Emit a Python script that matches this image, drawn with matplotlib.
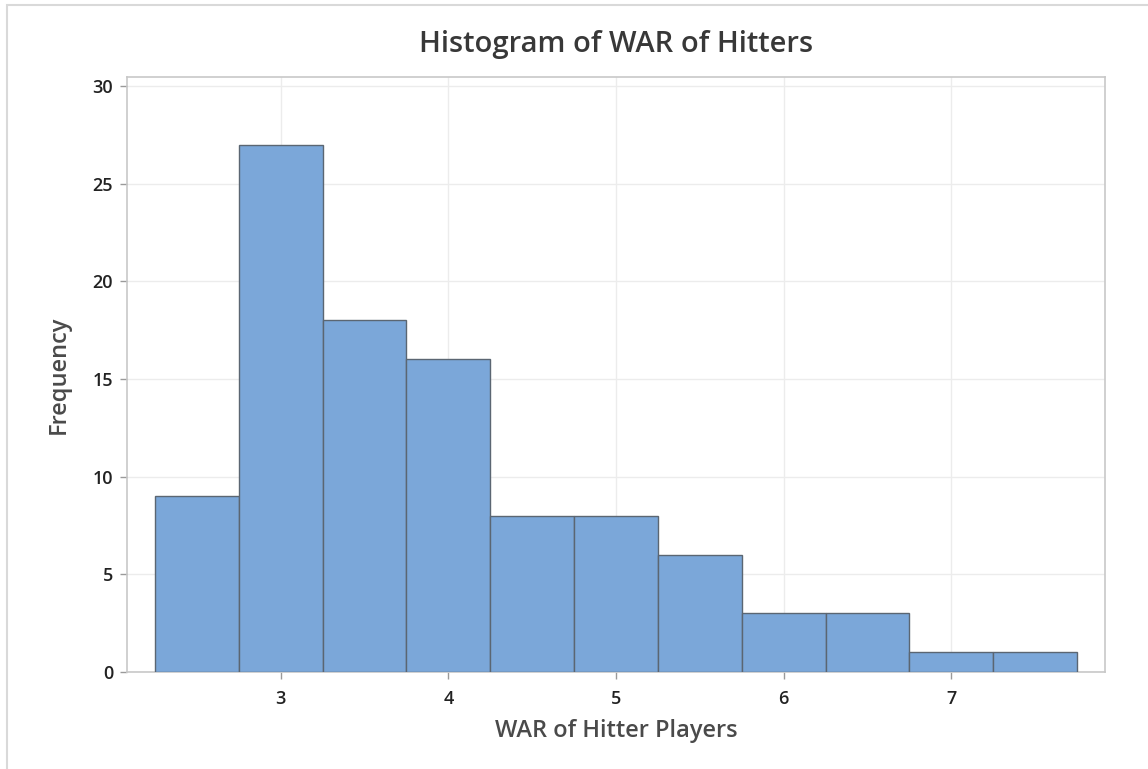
import matplotlib.pyplot as plt
from matplotlib.patches import Rectangle

bin_edges = [2.25, 2.75, 3.25, 3.75, 4.25, 4.75, 5.25, 5.75, 6.25, 6.75, 7.25, 7.75]
counts = [9, 27, 18, 16, 8, 8, 6, 3, 3, 1, 1]
x_ticks = [3, 4, 5, 6, 7]
y_ticks = [0, 5, 10, 15, 20, 25, 30]

plt.rcParams['font.family'] = ['Open Sans', 'DejaVu Sans']

fig = plt.figure(figsize=(11.48, 7.69), dpi=100)
ax = fig.add_axes([127 / 1148, 1 - 672 / 769, (1105 - 127) / 1148, (672 - 77) / 769])

# outer frame of the graph window
fig.patches.append(Rectangle((7 / 1148, -0.01), 1.01, 1 - 5 / 769 + 0.01,
                             transform=fig.transFigure, fill=False,
                             edgecolor='#d9d9d9', linewidth=1.5))

ax.hist(bin_edges[:-1], bins=bin_edges, weights=counts,
        color='#7ba7d9', edgecolor='#5b6672', linewidth=1.0, zorder=3)

ax.set_xlim(2.083, 7.917)
ax.set_ylim(0, 30.46)
ax.set_xticks(x_ticks)
ax.set_yticks(y_ticks)
ax.grid(True, color='#ececec', linewidth=1.0, zorder=0)
ax.set_axisbelow(True)

for s in ax.spines.values():
    s.set_color('#c8c8c8')
    s.set_linewidth(1.2)

ax.tick_params(axis='both', colors='#9a9a9a', length=5, width=1.0,
               labelsize=13, labelcolor='#222222')
ax.tick_params(axis='x', pad=8)
ax.tick_params(axis='y', pad=5)
for lab in ax.get_xticklabels() + ax.get_yticklabels():
    lab.set_fontweight('semibold')

ax.set_title('Histogram of WAR of Hitters', fontsize=21, color='#383838',
             pad=18, fontweight='semibold')
ax.set_xlabel('WAR of Hitter Players', fontsize=17, color='#4a4a4a',
              labelpad=8, fontweight='semibold')
ax.set_ylabel('Frequency', fontsize=17, color='#4a4a4a',
              labelpad=16, fontweight='semibold')

fig.savefig('out.png', dpi=100)
